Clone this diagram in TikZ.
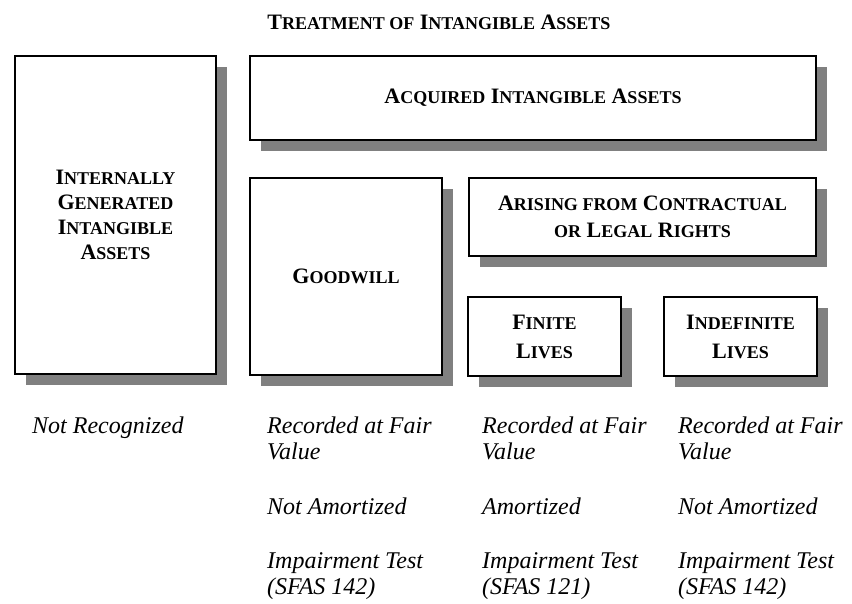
\documentclass[tikz,border=0pt]{standalone}
\usepackage{fontspec}
\setmainfont{Liberation Serif}
\usetikzlibrary{shadows}
\newcommand\capsz{\fontsize{18}{26}\selectfont}
\newcommand\capw[2]{#1{\capsz #2}}

\begin{document}
\begin{tikzpicture}[x=1pt,y=-1pt,
  panel/.style={draw, line width=1.4pt, fill=white, anchor=north west, outer sep=0pt,
    align=center, font=\fontsize{22}{26}\selectfont\bfseries,
    drop shadow={shadow xshift=11pt, shadow yshift=-11pt, fill=black!50, opacity=1}},
  note/.style={anchor=base west, inner sep=0pt, align=left,
    font=\fontsize{24}{25.5}\selectfont\itshape}]
  \useasboundingbox (0,0) rectangle (852,603);

  %%%%% TITLE %%%%%
  \node[font=\fontsize{22}{24}\selectfont\bfseries] (title) at (439,22)
    {\capw{T}{REATMENT OF} \capw{I}{NTANGIBLE} \capw{A}{SSETS}};

  %%%%% BOXES %%%%%
  \node[panel, minimum width=201, minimum height=318,
    font=\fontsize{22}{25}\selectfont\bfseries] (internal) at (15,56)
    {\capw{I}{NTERNALLY}\\\capw{G}{ENERATED}\\\capw{I}{NTANGIBLE}\\\capw{A}{SSETS}};
  \node[panel, minimum width=566, minimum height=84] (acquired) at (250,56)
    {\capw{A}{CQUIRED} \capw{I}{NTANGIBLE} \capw{A}{SSETS}};
  \node[panel, minimum width=192, minimum height=197] (goodwill) at (250,178)
    {\capw{G}{OODWILL}};
  \node[panel, minimum width=347, minimum height=78,
    font=\fontsize{22}{27}\selectfont\bfseries] (rights) at (469,178)
    {\capw{A}{RISING FROM} \capw{C}{ONTRACTUAL}\\{\capsz OR} \capw{L}{EGAL} \capw{R}{IGHTS}};
  \node[panel, minimum width=153, minimum height=79,
    font=\fontsize{22}{29}\selectfont\bfseries] (finite) at (468,297)
    {\capw{F}{INITE}\\\capw{L}{IVES}};
  \node[panel, minimum width=153, minimum height=79,
    font=\fontsize{22}{29}\selectfont\bfseries] (indefinite) at (664,297)
    {\capw{I}{NDEFINITE}\\\capw{L}{IVES}};

  %%%%% TREATMENT NOTES %%%%%
  \node[note] (intA) at (32,433) {Not Recognized};

  \node[note] (gwA) at (267,459) {Recorded at Fair\\Value};
  \node[note] (gwB) at (267,514) {Not Amortized};
  \node[note] (gwC) at (267,594) {Impairment Test\\(SFAS 142)};

  \node[note] (finA) at (482,459) {Recorded at Fair\\Value};
  \node[note] (finB) at (482,514) {Amortized};
  \node[note] (finC) at (482,594) {Impairment Test\\(SFAS 121)};

  \node[note] (indA) at (678,459) {Recorded at Fair\\Value};
  \node[note] (indB) at (678,514) {Not Amortized};
  \node[note] (indC) at (678,594) {Impairment Test\\(SFAS 142)};
\end{tikzpicture}
\end{document}
